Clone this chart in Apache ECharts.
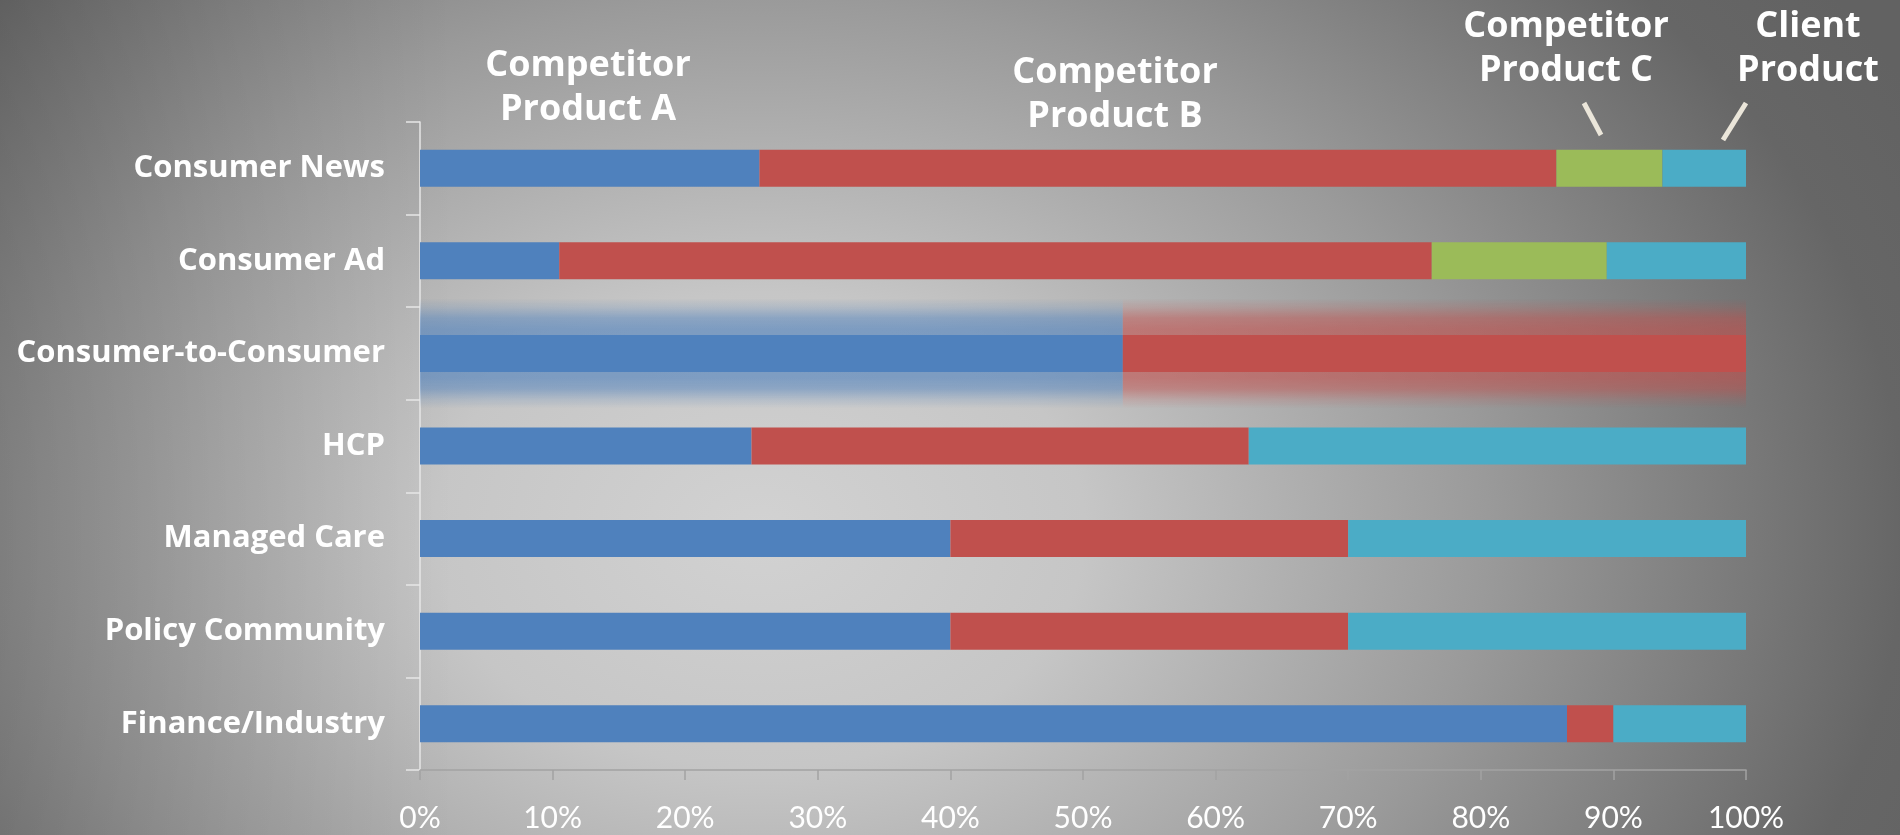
<!DOCTYPE html>
<html>
<head>
<meta charset="utf-8">
<script src="https://cdn.jsdelivr.net/npm/echarts@6/dist/echarts.min.js"></script>
<style>
  html, body { margin: 0; padding: 0; width: 1900px; height: 835px; overflow: hidden; }
  #chart {
    width: 1900px; height: 835px;
    background:
      linear-gradient(to right, rgba(0,0,0,0.16) 0%, rgba(0,0,0,0.07) 12%, rgba(0,0,0,0) 24%),
      radial-gradient(ellipse 1300px 950px at 760px 530px, #d2d2d2 0%, #c6c6c6 25%, #9a9a9a 56%, #666666 88%, #626262 100%);
  }
</style>
</head>
<body>
<div id="chart"></div>
<script>
// Audience segments, top to bottom
const categories = ['Consumer News', 'Consumer Ad', 'Consumer-to-Consumer', 'HCP', 'Managed Care', 'Policy Community', 'Finance/Industry'];

// Share of each product per segment (percent)
const productA = [25.6, 10.5, 53.0, 25.0, 40.0, 40.0, 86.5];
const productB = [60.1, 65.8, 47.0, 37.5, 30.0, 30.0, 3.5];
const productC = [8.0, 13.2, 0, 0, 0, 0, 0];
const clientProduct = [6.3, 10.5, 0, 37.5, 30.0, 30.0, 10.0];

const seriesNames = ['Competitor Product A', 'Competitor Product B', 'Competitor Product C', 'Client Product'];
const seriesData = [productA, productB, productC, clientProduct];
const colors = ['#4f81bd', '#c0504d', '#9bbb59', '#4bacc6'];
const rgb = ['79,129,189', '192,80,77', '155,187,89', '75,172,198'];

// Segment whose bar is drawn with a soft glow behind it
const glowSegment = 'Consumer-to-Consumer';

const xTicks = [0, 10, 20, 30, 40, 50, 60, 70, 80, 90, 100];

// Vertical fade used by the glow band
function glowGradient(c) {
  return {
    type: 'linear', x: 0, y: 0, x2: 0, y2: 1,
    colorStops: [
      { offset: 0.00, color: 'rgba(' + c + ',0)' },
      { offset: 0.08, color: 'rgba(' + c + ',0.18)' },
      { offset: 0.18, color: 'rgba(' + c + ',0.5)' },
      { offset: 0.28, color: 'rgba(' + c + ',0.62)' },
      { offset: 0.72, color: 'rgba(' + c + ',0.62)' },
      { offset: 0.82, color: 'rgba(' + c + ',0.5)' },
      { offset: 0.92, color: 'rgba(' + c + ',0.18)' },
      { offset: 1.00, color: 'rgba(' + c + ',0)' }
    ]
  };
}

const chart = echarts.init(document.getElementById('chart'), null, { renderer: 'canvas' });

const mainSeries = seriesData.map((vals, i) => ({
  name: seriesNames[i],
  type: 'bar',
  stack: 'share',
  xAxisIndex: 0,
  yAxisIndex: 0,
  barWidth: 37,
  z: 3,
  itemStyle: { color: colors[i] },
  emphasis: { disabled: true },
  data: vals.map(v => (v > 0 ? v : '-'))
}));

const glowSeries = seriesData.map((vals, i) => ({
  name: seriesNames[i] + ' glow',
  type: 'bar',
  stack: 'glow',
  xAxisIndex: 0,
  yAxisIndex: 1,
  barWidth: 110,
  z: 1,
  silent: true,
  itemStyle: { color: glowGradient(rgb[i]) },
  data: vals.map((v, k) => (categories[k] === glowSegment && v > 0 ? v : '-'))
}));

const headerFont = { fontFamily: 'Open Sans', fontWeight: 'bold', fontSize: 36, fill: '#ffffff', textAlign: 'center', lineHeight: 44 };

chart.setOption({
  backgroundColor: 'transparent',
  animation: false,
  grid: { left: 420, right: 154, top: 122, bottom: 65, containLabel: false },
  xAxis: {
    type: 'value',
    min: xTicks[0],
    max: xTicks[xTicks.length - 1],
    interval: xTicks[1] - xTicks[0],
    axisLine: { show: true, lineStyle: { color: '#a3a3a3', width: 1.5 } },
    axisTick: { show: true, length: 10, lineStyle: { color: '#a3a3a3', width: 1.5 } },
    splitLine: { show: false },
    axisLabel: { formatter: '{value}%', color: '#ffffff', fontFamily: 'Lato', fontSize: 30, margin: 33 }
  },
  yAxis: [{
    type: 'category',
    inverse: true,
    data: categories,
    axisLine: { show: true, lineStyle: { color: '#e6e6e6', width: 1.5 } },
    axisTick: { show: true, length: 14, lineStyle: { color: '#e6e6e6', width: 1.5 } },
    axisLabel: { color: '#ffffff', fontFamily: 'Open Sans', fontWeight: 'bold', fontSize: 31, margin: 35 }
  }, {
    type: 'category',
    inverse: true,
    data: categories,
    show: false
  }],
  series: glowSeries.concat(mainSeries),
  graphic: [
    { type: 'text', style: Object.assign({ text: 'Competitor\nProduct A', x: 588, y: 44 }, headerFont) },
    { type: 'text', style: Object.assign({ text: 'Competitor\nProduct B', x: 1115, y: 51 }, headerFont) },
    { type: 'text', style: Object.assign({ text: 'Competitor\nProduct C', x: 1566, y: 5 }, headerFont) },
    { type: 'text', style: Object.assign({ text: 'Client\nProduct', x: 1808, y: 5 }, headerFont) },
    { type: 'line', shape: { x1: 1584, y1: 103, x2: 1601, y2: 135 }, style: { stroke: '#ebe6da', lineWidth: 5 } },
    { type: 'line', shape: { x1: 1746, y1: 103, x2: 1723, y2: 140 }, style: { stroke: '#ebe6da', lineWidth: 5 } }
  ]
});
</script>
</body>
</html>
